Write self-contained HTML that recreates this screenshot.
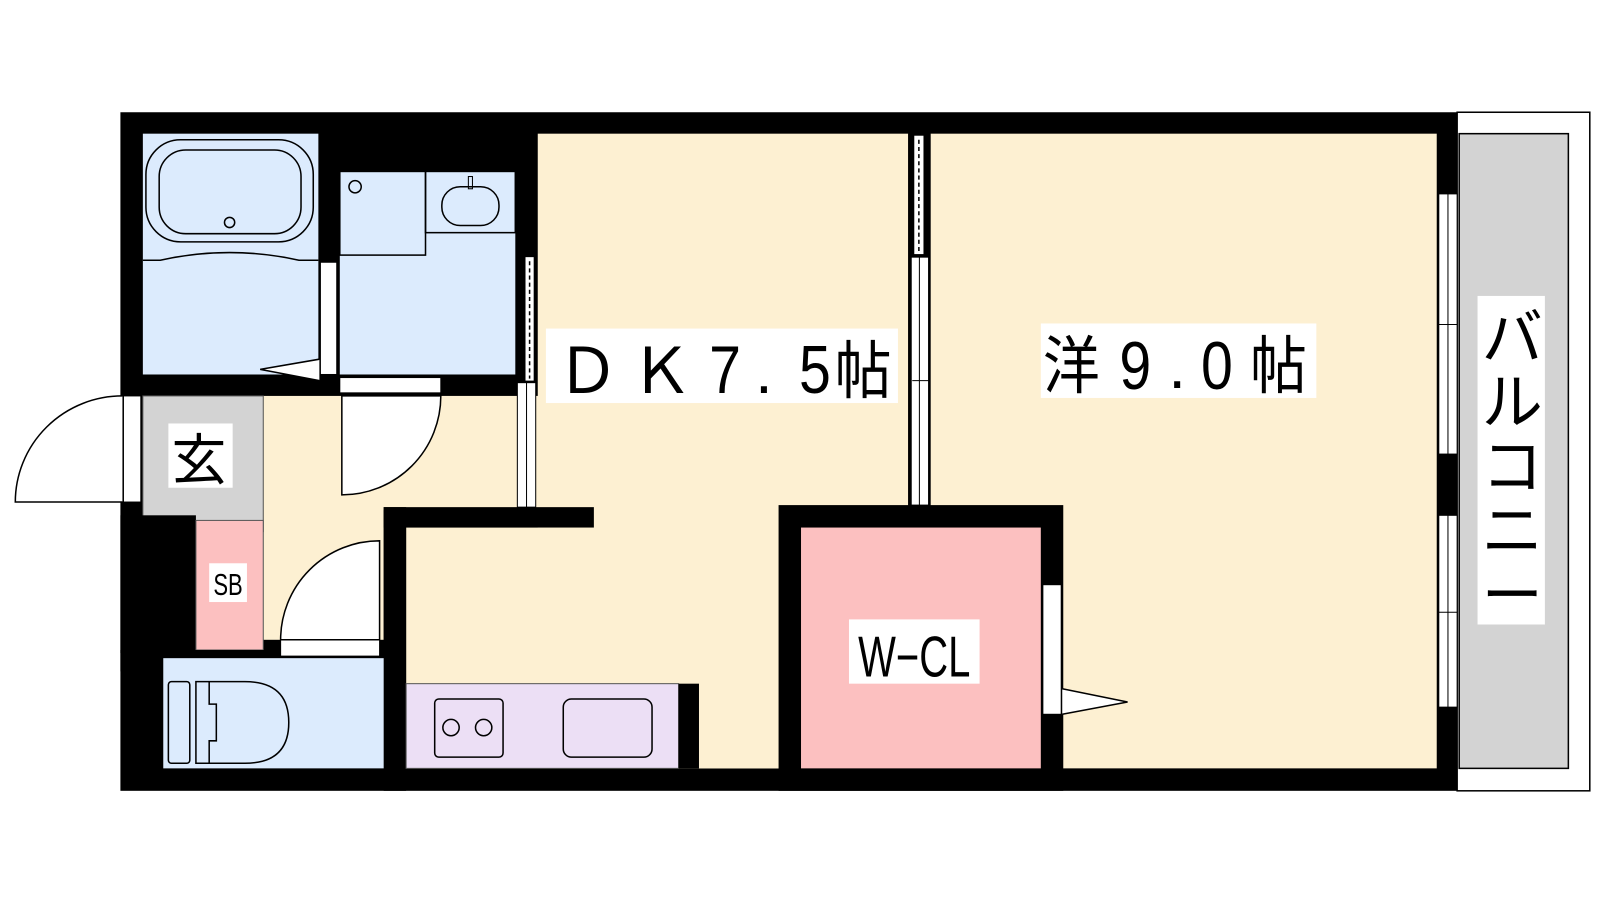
<!DOCTYPE html>
<html><head><meta charset="utf-8"><style>
html,body{margin:0;padding:0;background:#fff;width:1600px;height:900px;overflow:hidden}
text{font-family:"Liberation Sans","Noto Sans CJK JP",sans-serif;fill:#000}
</style></head><body>
<svg width="1600" height="900" viewBox="0 0 1568 882" preserveAspectRatio="none" xmlns="http://www.w3.org/2000/svg">
<!-- balcony -->
<rect x="1428" y="110" width="130" height="665" fill="#fff" stroke="#000" stroke-width="1.5"/>
<rect x="1430" y="131" width="107" height="622" fill="#d3d3d3" stroke="#000" stroke-width="1.5"/>
<!-- outer black -->
<rect x="118" y="110" width="1310" height="665" fill="#000"/>
<!-- floors -->
<rect x="527" y="131" width="363" height="622" fill="#fdf0d2"/>
<rect x="912" y="131" width="496" height="622" fill="#fdf0d2"/>
<rect x="258" y="388" width="270" height="112" fill="#fdf0d2"/>
<rect x="258" y="495" width="118" height="132" fill="#fdf0d2"/>
<rect x="398" y="517" width="365" height="153" fill="#fdf0d2"/>
<rect x="527" y="517" width="236" height="236" fill="#fdf0d2"/>
<rect x="685" y="670" width="80" height="83" fill="#fdf0d2"/>
<!-- wall DK/hall -->
<rect x="376" y="497" width="22" height="278" fill="#000"/>
<rect x="376" y="497" width="206" height="20" fill="#000"/>
<!-- bath -->
<rect x="140" y="131" width="172" height="236" fill="#dcebfd"/>
<rect x="143" y="137" width="164" height="100" rx="34" fill="none" stroke="#000" stroke-width="1.5"/>
<rect x="156" y="147" width="139" height="82" rx="26" fill="none" stroke="#000" stroke-width="1.5"/>
<circle cx="225" cy="218" r="5" fill="none" stroke="#000" stroke-width="1.5"/>
<path d="M140 255 L157 255 Q225 240 293 255 L312 255" fill="none" stroke="#000" stroke-width="1.5"/>
<rect x="314" y="257" width="16" height="110" fill="#fff" stroke="#000" stroke-width="1"/>
<path d="M313 352 L255 362 L313 373" fill="#fff" stroke="#000" stroke-width="1.5"/>
<!-- washroom -->
<rect x="333" y="168" width="172" height="199" fill="#dcebfd"/>
<rect x="333" y="168" width="84" height="82" fill="none" stroke="#000" stroke-width="1.5"/>
<rect x="417" y="168" width="88" height="60" fill="none" stroke="#000" stroke-width="1.5"/>
<circle cx="348" cy="183" r="6" fill="none" stroke="#000" stroke-width="1.5"/>
<rect x="433" y="183" width="56" height="38" rx="18" fill="none" stroke="#000" stroke-width="1.5"/>
<rect x="459" y="173" width="4" height="12" fill="none" stroke="#000" stroke-width="1"/>
<!-- sliding door washroom/DK -->
<rect x="508" y="250" width="17" height="125" fill="#000"/>
<rect x="515" y="252" width="8" height="121" fill="#fff"/>
<line x1="519" y1="256" x2="519" y2="371" stroke="#000" stroke-width="1.5" stroke-dasharray="4,3"/>
<rect x="507" y="375" width="18" height="122" fill="#fff" stroke="#000" stroke-width="1"/>
<line x1="516" y1="375" x2="516" y2="497" stroke="#000" stroke-width="1"/>
<!-- washroom door -->
<rect x="333" y="370" width="99" height="15" fill="#fff" stroke="#000" stroke-width="1"/>
<path d="M335 388 L432 388 A97 97 0 0 1 335 485 Z" fill="#fff" stroke="#000" stroke-width="1.5"/>
<!-- entrance -->
<rect x="140" y="388" width="118" height="133" fill="#d3d3d3" stroke="#555" stroke-width="1"/>
<rect x="118" y="505" width="74" height="135" fill="#000"/>
<rect x="192" y="510" width="66" height="127" fill="#fcc0c0" stroke="#555" stroke-width="1"/>
<rect x="121" y="388" width="17" height="104" fill="#fff" stroke="#000" stroke-width="1"/>
<path d="M120 388 A105 104 0 0 0 15 492 L120 492" fill="#fff" stroke="#000" stroke-width="1.5"/>
<!-- toilet -->
<rect x="118" y="637" width="258" height="21" fill="#000"/>
<rect x="160" y="645" width="216" height="108" fill="#dcebfd"/>
<rect x="275" y="627" width="97" height="16" fill="#fff" stroke="#000" stroke-width="1"/>
<path d="M372 627 L372 530 A97 97 0 0 0 275 627 Z" fill="#fff" stroke="#000" stroke-width="1.5"/>
<rect x="165" y="668" width="21" height="80" rx="3" fill="none" stroke="#000" stroke-width="1.5"/>
<path d="M192 668 L240 668 Q283 668 283 708 Q283 748 240 748 L192 748 Z" fill="none" stroke="#000" stroke-width="1.5"/>
<path d="M205 668 L205 690 L212 690 L212 726 L205 726 L205 748" fill="none" stroke="#000" stroke-width="1.5"/>
<!-- kitchen -->
<rect x="398" y="670" width="267" height="83" fill="#ecdff5" stroke="#555" stroke-width="1"/>
<rect x="665" y="670" width="20" height="83" fill="#000"/>
<rect x="426" y="685" width="67" height="57" rx="4" fill="none" stroke="#000" stroke-width="1.5"/>
<circle cx="442" cy="713" r="8" fill="none" stroke="#000" stroke-width="1.5"/>
<circle cx="474" cy="713" r="8" fill="none" stroke="#000" stroke-width="1.5"/>
<rect x="552" y="685" width="87" height="57" rx="8" fill="none" stroke="#000" stroke-width="1.5"/>
<!-- DK / 洋 wall -->
<rect x="890" y="131" width="22" height="364" fill="#000"/>
<rect x="896" y="133" width="9" height="116" fill="#fff"/>
<line x1="900.5" y1="137" x2="900.5" y2="247" stroke="#000" stroke-width="1.5" stroke-dasharray="4,3"/>
<rect x="893" y="252" width="17" height="243" fill="#fff" stroke="#000" stroke-width="1"/>
<line x1="901" y1="252" x2="901" y2="495" stroke="#000" stroke-width="1"/>
<line x1="894" y1="373" x2="910" y2="373" stroke="#000" stroke-width="1"/>
<!-- W-CL -->
<rect x="763" y="495" width="279" height="280" fill="#000"/>
<rect x="785" y="517" width="235" height="236" fill="#fcc0c0"/>
<rect x="1022" y="573" width="18" height="127" fill="#fff" stroke="#000" stroke-width="1"/>
<path d="M1041 675 L1105 688 L1041 700" fill="#fff" stroke="#000" stroke-width="1.5"/>
<!-- right windows -->
<rect x="1410" y="190" width="18" height="255" fill="#fff" stroke="#000" stroke-width="1"/>
<line x1="1419" y1="190" x2="1419" y2="445" stroke="#000" stroke-width="1"/>
<line x1="1410" y1="318" x2="1428" y2="318" stroke="#000" stroke-width="1"/>
<rect x="1410" y="505" width="18" height="188" fill="#fff" stroke="#000" stroke-width="1"/>
<line x1="1419" y1="505" x2="1419" y2="693" stroke="#000" stroke-width="1"/>
<line x1="1410" y1="600" x2="1428" y2="600" stroke="#000" stroke-width="1"/>
<!-- labels -->
<rect x="535" y="322" width="345" height="73" fill="#fff"/>
<text x="545" y="385" font-size="62">Ｄ</text>
<text x="617" y="385" font-size="62">Ｋ</text>
<text x="695" y="385" font-size="66" transform="translate(695 0) scale(0.85 1) translate(-695 0)">7</text>
<text x="740" y="385" font-size="62">.</text>
<text x="783" y="385" font-size="66" transform="translate(783 0) scale(0.85 1) translate(-783 0)">5</text>
<text x="818" y="385" font-size="62" transform="translate(818 0) scale(0.9 1) translate(-818 0)">帖</text>
<rect x="1020" y="317" width="270" height="73" fill="#fff"/>
<text x="1022" y="380" font-size="62" transform="translate(1022 0) scale(0.9 1) translate(-1022 0)">洋</text>
<text x="1097" y="381" font-size="66" transform="translate(1097 0) scale(0.85 1) translate(-1097 0)">9</text>
<text x="1145" y="380" font-size="62">.</text>
<text x="1177" y="381" font-size="66" transform="translate(1177 0) scale(0.85 1) translate(-1177 0)">0</text>
<text x="1225" y="380" font-size="62" transform="translate(1225 0) scale(0.9 1) translate(-1225 0)">帖</text>
<rect x="1448" y="290" width="66" height="322" fill="#fff"/>
<text x="1452" y="352" font-size="60">バ</text>
<text x="1452" y="415" font-size="60">ル</text>
<text x="1452" y="478" font-size="60">コ</text>
<text x="1452" y="541" font-size="60">ニ</text>
<text x="1452" y="604" font-size="60">ー</text>
<rect x="165" y="415" width="63" height="63" fill="#fff"/>
<text x="168" y="470" font-size="54">玄</text>
<rect x="205" y="552" width="37" height="38" fill="#fff"/>
<text x="223.5" y="583" font-size="30" text-anchor="middle" transform="translate(223.5 0) scale(0.72 1) translate(-223.5 0)">SB</text>
<rect x="832" y="607" width="128" height="63" fill="#fff"/>
<text x="896" y="663" font-size="56" text-anchor="middle" transform="translate(896 0) scale(0.7 1) translate(-896 0)">W−CL</text>
</svg>
</body></html>
